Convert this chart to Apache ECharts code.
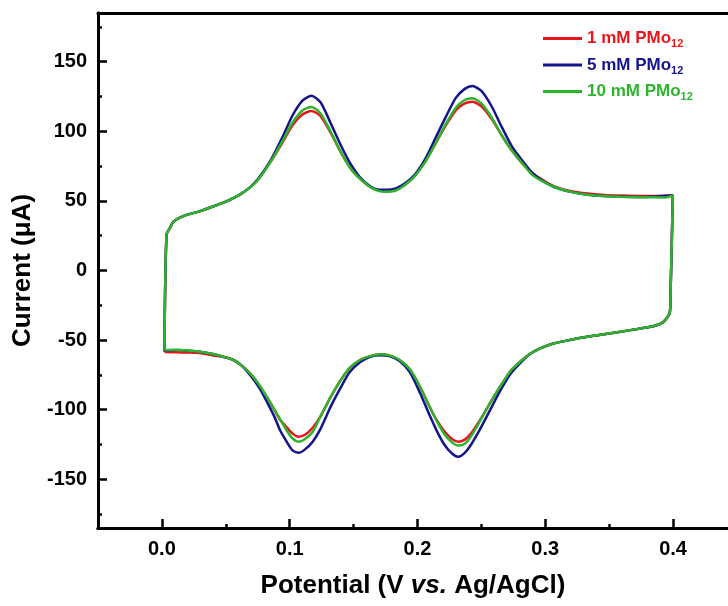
<!DOCTYPE html>
<html>
<head>
<meta charset="utf-8">
<script src="https://cdn.jsdelivr.net/npm/echarts@6/dist/echarts.min.js"></script>
<style>
    html, body { margin: 0; padding: 0; background: #fff; }
    #cv-chart { width: 728px; height: 606px; }
</style>
</head>
<body>
<div id="cv-chart"></div>
<script>
// potential (V vs Ag/AgCl) along the closed CV loop: anodic branch, right edge, cathodic branch
var potential = [
    0.002, 0.0036, 0.0065, 0.009, 0.017, 0.030, 0.040, 0.050, 0.060, 0.068, 0.075, 0.085, 0.095,
    0.102, 0.110, 0.117, 0.124, 0.132, 0.140, 0.148, 0.155, 0.163, 0.170, 0.176, 0.183, 0.190,
    0.198, 0.206, 0.214, 0.222, 0.230, 0.237, 0.243, 0.250, 0.258, 0.266, 0.274, 0.282, 0.290,
    0.298, 0.307, 0.320, 0.333, 0.346, 0.360, 0.375, 0.394,
    0.3998, 0.3990, 0.3982, 0.3975,
    0.3926, 0.385, 0.372, 0.359, 0.346, 0.333, 0.320, 0.307, 0.296, 0.288, 0.281, 0.273, 0.265,
    0.257, 0.249, 0.242, 0.237, 0.232, 0.227, 0.221, 0.215, 0.209, 0.202, 0.194, 0.186, 0.178,
    0.171, 0.163, 0.155, 0.147, 0.140, 0.132, 0.124, 0.118, 0.112, 0.107, 0.102, 0.097, 0.0926,
    0.088, 0.082, 0.076, 0.069, 0.062, 0.056, 0.048, 0.040, 0.031, 0.022, 0.012, 0.002
];

// current (uA) for each concentration, same order as potential
var current1mM = [
    -58.5, 25.5, 31, 35, 39.2, 42.7, 46, 49.5, 54, 59, 65, 78, 93,
    104, 112, 114.6, 111, 99, 85, 73, 66, 60, 57.5, 57, 58, 61.5,
    68, 78, 91, 104, 115, 120, 121.3, 118, 109, 97, 86, 77, 70,
    65, 60.5, 57, 55.3, 54.3, 53.8, 53.5, 53.8,
    54, 20, -10, -30,
    -36.8, -39.9, -42, -44, -45.8, -47.6, -49.8, -52.3, -56, -60, -65, -72, -83,
    -95, -107.4, -117, -121.5, -123, -121, -115.5, -107.4, -97, -83.5, -71, -64.3, -61,
    -60.2, -61.5, -64.3, -70, -78.7, -91, -105, -113, -118, -119.4, -117, -112, -107.4,
    -100, -90.7, -82, -73.9, -68, -64.3, -62, -61, -59.5, -59, -58.8, -58.5
];

var current5mM = [
    -57.5, 25.5, 31, 35, 39.2, 42.7, 46, 49.5, 54, 59, 65.5, 79, 97,
    111, 122, 125.5, 121, 106, 90, 76, 67, 60.5, 58, 58, 59, 62.5,
    69, 80, 95, 110, 124, 130.5, 132.5, 129, 118, 103, 89, 79, 70,
    64.5, 60, 56.5, 54.5, 53.5, 53, 52.8, 53.5,
    54, 20, -10, -30,
    -36.8, -39.9, -42, -44, -45.8, -47.6, -49.8, -52.3, -56, -60, -66, -74, -86,
    -100, -114, -125, -131, -133.8, -131.5, -125, -115, -103, -88, -73, -65, -61.5,
    -60.9, -62, -66, -73, -84, -98, -114, -123, -128.5, -131, -129, -122, -115,
    -105, -94, -84, -75, -68, -64.3, -62, -60, -58.5, -57.6, -57.2, -57.5
];

var current10mM = [
    -57.1, 25.5, 31, 35, 39.2, 42.7, 46, 49.5, 54, 59, 65, 78, 94,
    106, 115, 117.5, 113, 100, 85, 73, 66, 60, 57, 56.5, 57.5, 61.5,
    68, 78, 91, 105, 117, 122.5, 123.7, 120, 110, 97, 86, 77, 68.5,
    64, 60, 56.5, 54.5, 53.5, 53, 52.7, 52.5,
    54, 20, -10, -30,
    -36.8, -39.9, -42, -44, -45.8, -47.6, -49.8, -52.3, -56, -60, -65, -72, -83,
    -95, -108, -119, -124.5, -125.8, -123.5, -117.5, -108, -97, -83.5, -71, -64.3, -61,
    -60.2, -61.5, -64.3, -70, -78.7, -91, -105, -116, -121, -123, -120.5, -114, -107,
    -100, -90.7, -82, -73.9, -68, -64.3, -62, -60, -58.5, -57.6, -57.2, -57.1
];

var seriesNames = ['1 mM PMo', '5 mM PMo', '10 mM PMo'];
var seriesColors = ['#e8161c', '#14148c', '#2cb52c'];

var xMajorTicks = [0, 0.1, 0.2, 0.3, 0.4];
var xMinorTicks = [0.05, 0.15, 0.25, 0.35];
var yMajorTicks = [-150, -100, -50, 0, 50, 100, 150];
var yMinorTicks = [-175, -125, -75, -25, 25, 75, 125, 175];

var fontFamily = '"Liberation Sans", Arial, sans-serif';

function pairUp(xs, ys) {
    return xs.map(function(x, i) {
        return [x, ys[i]];
    });
}

function createCvChart(element) {
    var chart = echarts.init(element, null, { renderer: 'canvas' });

    var xRange = { min: -0.05, max: 0.443 };
    var yRange = { min: -185, max: 185 };

    var baseAxis = {
        axisLine: { show: true, onZero: false, lineStyle: { color: '#000', width: 3 } },
        splitLine: { show: false },
    };

    var allCurrents = [current1mM, current5mM, current10mM];

    var chartOptions = {
        animation: false,
        backgroundColor: '#fff',
        grid: { left: 98, right: 0, top: 13, bottom: 78 },
        legend: {
            orient: 'vertical',
            left: 538,
            top: 25,
            itemWidth: 39,
            itemHeight: 3,
            itemGap: 7,
            icon: 'rect',
            data: seriesNames.map(function(name, i) {
                return { name: name, textStyle: { color: seriesColors[i] } };
            }),
            formatter: function(name) {
                return '{a|' + name + '}{s|12}';
            },
            textStyle: {
                fontFamily: fontFamily,
                rich: {
                    a: { fontSize: 17, fontWeight: 'bold', lineHeight: 22, fontFamily: fontFamily },
                    s: { fontSize: 11, fontWeight: 'bold', lineHeight: 11, verticalAlign: 'bottom', fontFamily: fontFamily },
                },
            },
        },
        xAxis: [
            Object.assign({}, baseAxis, {
                type: 'value',
                position: 'bottom',
                min: xRange.min,
                max: xRange.max,
                name: 'Potential (V {i|vs.} Ag/AgCl)',
                nameLocation: 'middle',
                nameGap: 45,
                nameTextStyle: {
                    fontFamily: fontFamily,
                    fontSize: 26,
                    fontWeight: 'bold',
                    color: '#000',
                    rich: {
                        i: { fontFamily: fontFamily, fontSize: 26, fontWeight: 'bold', fontStyle: 'italic', color: '#000' },
                    },
                },
                axisTick: { show: true, inside: true, length: 9, lineStyle: { color: '#000', width: 2.5 }, customValues: xMajorTicks },
                axisLabel: {
                    customValues: xMajorTicks,
                    margin: 11,
                    fontFamily: fontFamily,
                    fontSize: 20,
                    fontWeight: 'bold',
                    color: '#000',
                    formatter: function(v) {
                        return v.toFixed(1);
                    },
                },
            }),
            Object.assign({}, baseAxis, {
                type: 'value',
                position: 'bottom',
                min: xRange.min,
                max: xRange.max,
                axisTick: { show: true, inside: true, length: 4, lineStyle: { color: '#000', width: 2.5 }, customValues: xMinorTicks },
                axisLabel: { show: false },
            }),
            Object.assign({}, baseAxis, {
                type: 'value',
                position: 'top',
                min: xRange.min,
                max: xRange.max,
                axisTick: { show: false },
                axisLabel: { show: false },
            }),
        ],
        yAxis: [
            Object.assign({}, baseAxis, {
                type: 'value',
                position: 'left',
                min: yRange.min,
                max: yRange.max,
                name: 'Current (\u03BCA)',
                nameLocation: 'middle',
                nameGap: 59,
                nameTextStyle: { fontFamily: fontFamily, fontSize: 26, fontWeight: 'bold', color: '#000' },
                axisTick: { show: true, inside: true, length: 9, lineStyle: { color: '#000', width: 2.5 }, customValues: yMajorTicks },
                axisLabel: {
                    customValues: yMajorTicks,
                    margin: 11,
                    fontFamily: fontFamily,
                    fontSize: 20,
                    fontWeight: 'bold',
                    color: '#000',
                },
            }),
            Object.assign({}, baseAxis, {
                type: 'value',
                position: 'left',
                offset: 0,
                min: yRange.min,
                max: yRange.max,
                axisTick: { show: true, inside: true, length: 4, lineStyle: { color: '#000', width: 2.5 }, customValues: yMinorTicks },
                axisLabel: { show: false },
            }),
        ],
        series: seriesNames.map(function(name, i) {
            return {
                name: name,
                type: 'line',
                xAxisIndex: 0,
                yAxisIndex: 0,
                showSymbol: false,
                symbol: 'none',
                smooth: 0.25,
                silent: true,
                color: seriesColors[i],
                lineStyle: { color: seriesColors[i], width: 2.5 },
                data: pairUp(potential, allCurrents[i]),
            };
        }),
    };

    chart.setOption(chartOptions);

    return chart;
}

createCvChart(document.getElementById('cv-chart'));
</script>
</body>
</html>
